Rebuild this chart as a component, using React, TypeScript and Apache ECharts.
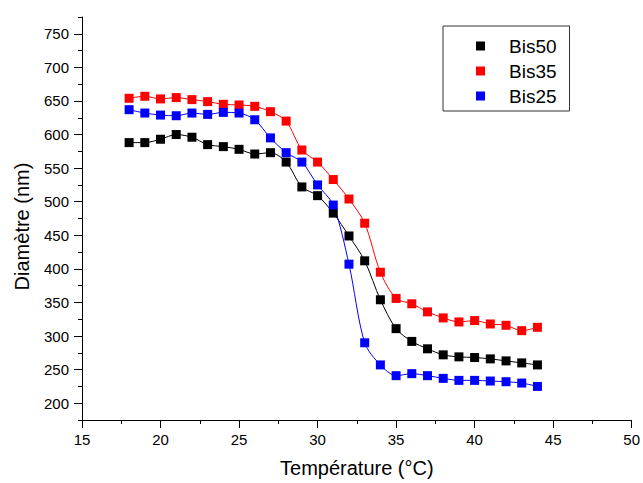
import React, { useEffect, useRef } from "react";
import * as echarts from "echarts";

const temps = [18, 19, 20, 21, 22, 23, 24, 25, 26, 27, 28, 29, 30, 31, 32, 33, 34, 35, 36, 37, 38, 39, 40, 41, 42, 43, 44];
const bis50 = [588, 588, 593, 600, 596, 585, 582, 578, 571, 573, 559, 522, 509, 483, 449, 412, 354, 311, 292, 281, 272, 269, 268, 266, 263, 260, 257];
const bis35 = [654, 657, 653, 655, 652, 649, 645, 644, 642, 634, 620, 577, 559, 533, 504, 468, 395, 356, 348, 336, 327, 321, 323, 318, 316, 308, 313];
const bis25 = [637, 632, 629, 628, 632, 630, 633, 632, 622, 595, 573, 559, 525, 495, 407, 290, 257, 241, 244, 241, 237, 234, 234, 233, 232, 230, 225];
const yMajorTicks = [200, 250, 300, 350, 400, 450, 500, 550, 600, 650, 700, 750];
const yMinorTicks = [175, 225, 275, 325, 375, 425, 475, 525, 575, 625, 675, 725, 775];

const FONT = "Liberation Sans, Arial, sans-serif";

export default function App() {
  const ref = useRef<HTMLDivElement>(null);
  useEffect(() => {
    if (!ref.current) return;
    const chart = echarts.init(ref.current, undefined, { renderer: "svg" });
    const mk = (name: string, ys: number[], color: string) => ({
      name,
      type: "line",
      yAxisIndex: 0,
      data: temps.map((t, i) => [t, ys[i]]),
      smooth: 0.3,
      symbol: "rect",
      symbolSize: 9,
      itemStyle: { color },
      lineStyle: { color, width: 1 },
    });
    chart.setOption({
      animation: false,
      backgroundColor: "#fff",
      textStyle: { fontFamily: FONT },
      grid: { left: 82, right: 10, top: 17, bottom: 61 },
      legend: {
        orient: "vertical",
        left: 443,
        top: 26,
        itemWidth: 9,
        itemHeight: 9,
        itemGap: 5,
        icon: "rect",
        padding: [10, 13, 5, 33],
        borderColor: "#333",
        borderWidth: 1,
        textStyle: { fontSize: 19, fontFamily: FONT, color: "#000", padding: [0, 0, 0, 19], lineHeight: 20 },
        data: ["Bis50", "Bis35", "Bis25"],
      },
      xAxis: {
        type: "value",
        min: 15,
        max: 50,
        interval: 5,
        name: "Température (°C)",
        nameLocation: "middle",
        nameGap: 38,
        nameTextStyle: { fontSize: 20, color: "#000", fontFamily: FONT },
        axisLine: { show: true, lineStyle: { color: "#000", width: 1 } },
        axisTick: { show: true, inside: false, length: 8, lineStyle: { color: "#000" } },
        minorTick: { show: true, splitNumber: 2, length: 4, lineStyle: { color: "#000" } },
        splitLine: { show: false },
        axisLabel: { fontSize: 15, color: "#000", margin: 12, fontFamily: FONT },
      },
      yAxis: [
        {
          type: "value",
          min: 175,
          max: 775,
          position: "left",
          name: "Diamètre (nm)",
          nameLocation: "middle",
          nameGap: 50,
          nameTextStyle: { fontSize: 20, color: "#000", fontFamily: FONT, padding: [0, 16, 0, 0] },
          axisLine: { show: true, lineStyle: { color: "#000", width: 1 } },
          axisTick: { show: true, inside: false, length: 8, customValues: yMajorTicks, lineStyle: { color: "#000" } },
          splitLine: { show: false },
          axisLabel: { fontSize: 15, color: "#000", margin: 13, customValues: yMajorTicks, fontFamily: FONT },
        },
        {
          type: "value",
          min: 175,
          max: 775,
          position: "left",
          axisLine: { show: false },
          axisTick: { show: true, inside: false, length: 4, customValues: yMinorTicks, lineStyle: { color: "#000" } },
          splitLine: { show: false },
          axisLabel: { show: false },
        },
      ],
      series: [mk("Bis50", bis50, "#000000"), mk("Bis35", bis35, "#ff0000"), mk("Bis25", bis25, "#0000ff")],
    });
    return () => chart.dispose();
  }, []);
  return (
    <div
      ref={ref}
      style={{ position: "absolute", left: 0, top: 0, width: 643, height: 483, background: "#fff" }}
    />
  );
}
